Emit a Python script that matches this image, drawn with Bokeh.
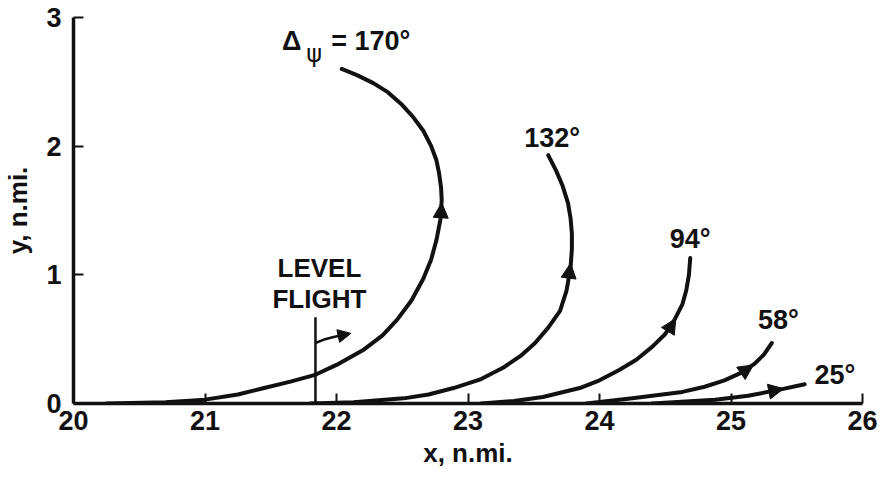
from bokeh.plotting import figure
from bokeh.models import Range1d, FixedTicker, Arrow, NormalHead, ColumnDataSource
from bokeh.core.properties import value
from bokeh.embed import file_html
from bokeh.resources import INLINE

# Ground tracks of pull-up turns for several heading changes (n.mi.)
x_170 = [20.25, 20.7, 21.0, 21.25, 21.45, 21.65, 21.83, 22.0, 22.21, 22.35, 22.46, 22.57,
         22.66, 22.72, 22.76, 22.79, 22.80, 22.795, 22.78, 22.76, 22.72, 22.66, 22.58, 22.49,
         22.39, 22.28, 22.16, 22.04]
y_170 = [0.0, 0.01, 0.03, 0.07, 0.12, 0.17, 0.22, 0.30, 0.42, 0.53, 0.65, 0.80,
         0.97, 1.12, 1.27, 1.43, 1.58, 1.68, 1.79, 1.89, 2.00, 2.12, 2.23, 2.33,
         2.42, 2.49, 2.55, 2.60]

x_132 = [21.8, 22.13, 22.51, 22.7, 22.89, 23.1, 23.27, 23.4, 23.51, 23.61, 23.70, 23.75,
         23.78, 23.79, 23.79, 23.78, 23.76, 23.72, 23.67, 23.61]
y_132 = [0.0, 0.01, 0.04, 0.07, 0.12, 0.19, 0.28, 0.37, 0.47, 0.59, 0.72, 0.88,
         1.06, 1.20, 1.32, 1.44, 1.56, 1.69, 1.81, 1.93]

x_94 = [23.1, 23.35, 23.57, 23.85, 24.0, 24.15, 24.28, 24.40, 24.50, 24.57, 24.63, 24.66,
        24.68, 24.69]
y_94 = [0.0, 0.02, 0.05, 0.12, 0.18, 0.26, 0.34, 0.44, 0.54, 0.65, 0.77, 0.88,
        1.00, 1.13]

x_58 = [23.9, 24.25, 24.63, 24.8, 24.95, 25.08, 25.18, 25.25, 25.31]
y_58 = [0.0, 0.04, 0.09, 0.13, 0.18, 0.24, 0.31, 0.38, 0.47]

x_25 = [24.4, 24.88, 25.13, 25.38, 25.56]
y_25 = [0.0, 0.03, 0.06, 0.11, 0.15]

# Direction arrows on each track: (x tail, y tail, x tip, y tip)
arrows = [
    (22.79, 1.40, 22.80, 1.56),
    (23.76, 0.93, 23.78, 1.09),
    (24.52, 0.56, 24.58, 0.66),
    (25.07, 0.23, 25.17, 0.30),
    (25.25, 0.085, 25.40, 0.115),
]

# Heading-change labels and where they sit
turn_labels = ["132°", "94°", "58°", "25°"]
turn_label_x = [23.64, 24.69, 25.36, 25.79]
turn_label_y = [2.06, 1.28, 0.65, 0.22]

# Level-flight marker
level_x = 21.84
level_top = 0.67
level_hook_x = [21.84, 21.90, 21.97, 22.04]
level_hook_y = [0.47, 0.495, 0.515, 0.53]

x_ticks = [20, 21, 22, 23, 24, 25, 26]
y_ticks = [0, 1, 2, 3]

FONT = "Liberation Sans"
INK = "#111111"

p = figure(width=882, height=479, x_range=Range1d(20, 26), y_range=Range1d(0, 3),
           output_backend="svg", toolbar_location=None,
           min_border_left=68, min_border_right=20, min_border_top=17, min_border_bottom=76)
p.outline_line_color = None
p.grid.visible = False
p.background_fill_color = "white"
p.border_fill_color = "white"

for ax, ticks, label in ((p.xaxis[0], x_ticks, "x, n.mi."), (p.yaxis[0], y_ticks, "y, n.mi.")):
    ax.ticker = FixedTicker(ticks=ticks)
    ax.minor_tick_line_color = None
    ax.major_tick_in = 10
    ax.major_tick_out = 0
    ax.major_tick_line_width = 2
    ax.major_tick_line_color = INK
    ax.axis_line_width = 3.5
    ax.axis_line_color = INK
    ax.major_label_text_font = FONT
    ax.major_label_text_font_size = "27px"
    ax.major_label_text_font_style = "bold"
    ax.major_label_text_color = INK
    ax.axis_label = label
    ax.axis_label_text_font = FONT
    ax.axis_label_text_font_size = "26px"
    ax.axis_label_text_font_style = "bold"
    ax.axis_label_text_color = INK

p.xaxis.major_label_standoff = 7
p.xaxis.axis_label_standoff = 5
p.yaxis.major_label_standoff = 12
p.yaxis.axis_label_standoff = 10

for xs, ys in ((x_170, y_170), (x_132, y_132), (x_94, y_94), (x_58, y_58), (x_25, y_25)):
    p.line(xs, ys, line_width=4, line_color=INK, line_cap="round", line_join="round")

for xs0, ys0, xs1, ys1 in arrows:
    p.add_layout(Arrow(x_start=xs0, y_start=ys0, x_end=xs1, y_end=ys1, line_alpha=0,
                       end=NormalHead(size=15, fill_color=INK, line_color=INK, line_width=1)))

# Level flight marker with its small turn arrow
p.segment(x0=[level_x], y0=[0], x1=[level_x], y1=[level_top], line_width=2.5, line_color=INK)
p.line(level_hook_x, level_hook_y, line_width=2.5, line_color=INK)
p.add_layout(Arrow(x_start=level_hook_x[-2], y_start=level_hook_y[-2],
                   x_end=22.11, y_end=0.545, line_alpha=0,
                   end=NormalHead(size=13, fill_color=INK, line_color=INK, line_width=1)))
p.text(x=[21.87, 21.87], y=[1.05, 0.81], text=["LEVEL", "FLIGHT"],
       text_font=value(FONT), text_font_size="26px", text_font_style="bold",
       text_color=INK, text_align="center", text_baseline="middle")

# Heading-change labels
src = ColumnDataSource(dict(x=turn_label_x, y=turn_label_y, t=turn_labels))
p.text(x="x", y="y", text="t", source=src, text_font=value(FONT), text_font_size="27px",
       text_font_style="bold", text_color=INK, text_align="center", text_baseline="middle")

p.text(x=[21.66], y=[2.82], text=["Δ"], text_font=value(FONT), text_font_size="27px",
       text_font_style="bold", text_color=INK, text_align="center", text_baseline="middle")
p.text(x=[21.83], y=[2.72], text=["ψ"], text_font=value("DejaVu Sans"), text_font_size="24px",
       text_color=INK, text_align="center", text_baseline="middle")
p.text(x=[21.96], y=[2.82], text=["= 170°"], text_font=value(FONT), text_font_size="27px",
       text_font_style="bold", text_color=INK, text_align="left", text_baseline="middle")

open("out.html", "w").write(file_html(p, INLINE))
